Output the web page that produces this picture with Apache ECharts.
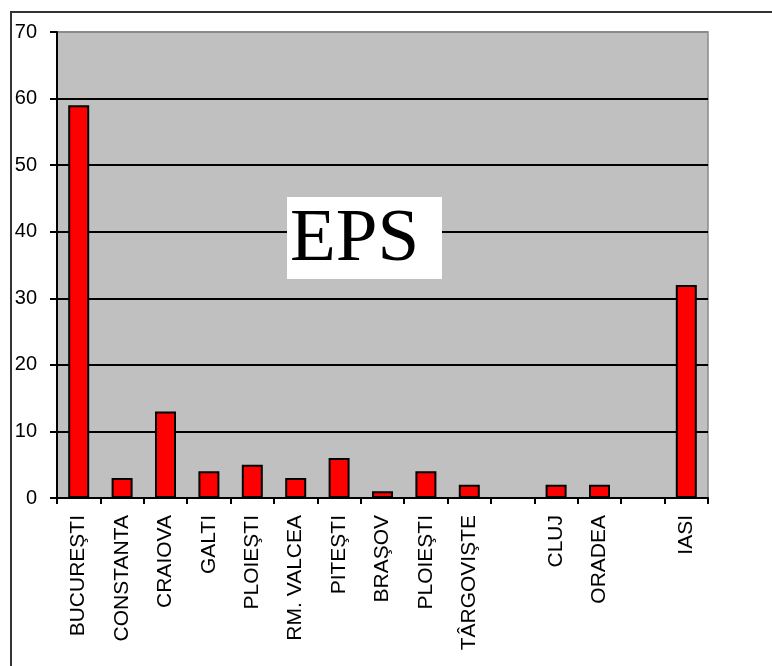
<!DOCTYPE html>
<html>
<head>
<meta charset="utf-8">
<script src="https://cdn.jsdelivr.net/npm/echarts@6/dist/echarts.min.js"></script>
<style>html,body{margin:0;padding:0;background:#fff}#c{width:772px;height:666px}</style>
</head>
<body>
<div id="c"></div>
<script>
const categories = ['BUCUREŞTI','CONSTANTA','CRAIOVA','GALTI','PLOIEŞTI','RM. VALCEA','PITEŞTI','BRAŞOV','PLOIEŞTI','TÂRGOVIŞTE','','CLUJ','ORADEA','','IASI'];
const values = [59, 3, 13, 4, 5, 3, 6, 1, 4, 2, null, 2, 2, null, 32];
const yTicks = {min: 0, max: 70, interval: 10};
const titleText = 'EPS';

const chart = echarts.init(document.getElementById('c'));
chart.setOption({
  animation: false,
  grid: {left: 57, top: 32, right: 64, bottom: 168, show: true, backgroundColor: '#c0c0c0', borderColor: '#8a8a8a', borderWidth: 1.5},
  xAxis: {
    type: 'category', data: categories,
    axisLine: {lineStyle: {color: '#000', width: 2}},
    axisTick: {show: true, alignWithLabel: false, length: 6, lineStyle: {color: '#000', width: 2}},
    axisLabel: {interval: 0, rotate: 90, margin: 17, color: '#000', fontFamily: 'Liberation Sans, Arial', fontSize: 21}
  },
  yAxis: {
    type: 'value', min: yTicks.min, max: yTicks.max, interval: yTicks.interval,
    axisLine: {show: true, lineStyle: {color: '#000', width: 2}},
    axisTick: {show: true, length: 7, lineStyle: {color: '#000', width: 2}},
    axisLabel: {margin: 20, color: '#000', fontFamily: 'Liberation Sans, Arial', fontSize: 20},
    splitLine: {show: true, lineStyle: {color: ['#000','#000','#000','#000','#000','#000','#000','#8a8a8a'], width: 2}}
  },
  series: [{
    type: 'bar', data: values, barWidth: 21,
    itemStyle: {color: '#ff0000', borderColor: '#000', borderWidth: 2}
  }],
  graphic: [
    {type: 'rect', shape: {x: 11, y: 12, width: 800, height: 700}, style: {fill: 'none', stroke: '#333', lineWidth: 2}, z: 100},
    {type: 'rect', shape: {x: 287, y: 197, width: 155, height: 82}, style: {fill: '#fff'}, z: 100},
    {type: 'text', x: 290, y: 240, style: {text: titleText, font: '75px "Liberation Serif", "Times New Roman", serif', fill: '#000', textAlign: 'left', textVerticalAlign: 'middle'}, z: 101}
  ]
});
</script>
</body>
</html>
